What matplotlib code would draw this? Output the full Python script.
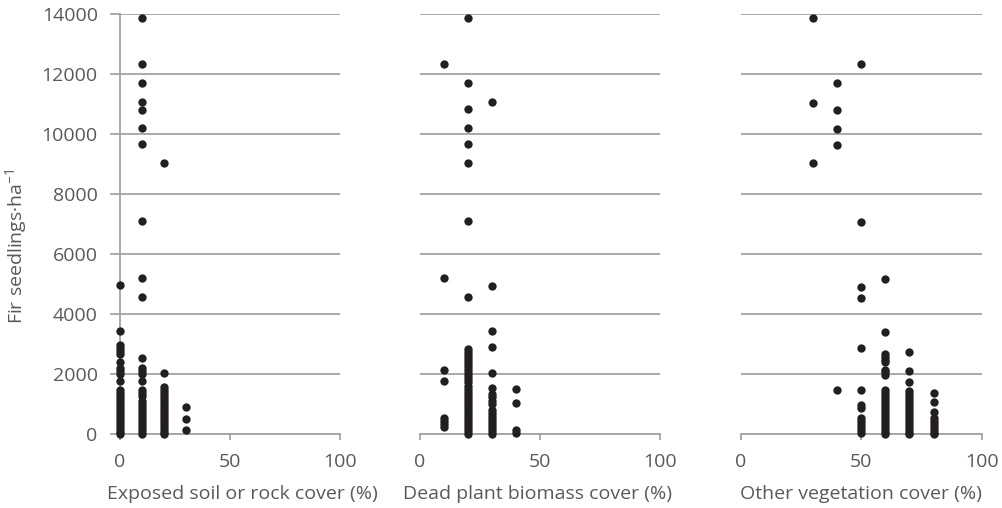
import matplotlib
matplotlib.use("Agg")
import matplotlib.pyplot as plt

# data: x = cover class (%), y = fir seedlings per ha
soil_cols = {
    0: [4950, 3430, 2950, 2850, 2750, 2650, 2400, 2200, 2100, 2000, 1770,
        1450, 1350, 1250, 1150, 1050, 950, 850, 750, 650, 550, 450, 350, 250, 150, 50, 0],
    10: [13850, 12330, 11700, 11080, 10800, 10200, 9660, 7110, 5210, 4580,
         2540, 2200, 2100, 2000, 1770, 1480, 1380, 1250, 1100, 1000, 900, 800,
         700, 600, 500, 400, 300, 200, 100, 0],
    20: [9030, 2030, 1550, 1450, 1350, 1250, 1150, 1050, 950, 850, 750, 650,
         550, 450, 350, 250, 150, 50, 0],
    30: [900, 500, 130],
}
dead_cols = {
    10: [12330, 5210, 2130, 1770, 530, 430, 330, 230],
    20: [13850, 11700, 10820, 10200, 9670, 9030, 7110, 4580, 2830, 2730,
         2630, 2530, 2430, 2330, 2230, 2130, 2030, 1930, 1830, 1730, 1600,
         1500, 1400, 1300, 1200, 1100, 1000, 900, 800, 700, 600, 500, 400,
         300, 200, 100, 0],
    30: [11080, 4940, 3430, 2910, 2030, 1530, 1320, 1240, 1100, 1000, 800,
         700, 600, 500, 400, 300, 200, 100, 0],
    40: [1510, 1030, 130, 30],
}
veg_cols = {
    30: [13850, 11040, 9030],
    40: [11690, 10800, 10170, 9630, 1470],
    50: [12330, 7080, 4910, 4520, 2880, 1470, 970, 860, 530, 430, 330, 230, 130, 30],
    60: [5170, 3400, 2680, 2580, 2480, 2400, 2130, 2050, 1970, 1450, 1350,
         1250, 1150, 1050, 950, 850, 750, 650, 550, 450, 350, 250, 150, 50, 0],
    70: [2740, 2110, 1730, 1430, 1330, 1230, 1130, 1030, 930, 830, 730, 630,
         530, 430, 330, 230, 130, 30, 0],
    80: [1370, 1080, 730, 530, 430, 330, 230, 130, 30, 0],
}

panels = [
    ("Exposed soil or rock cover (%)", soil_cols),
    ("Dead plant biomass cover (%)", dead_cols),
    ("Other vegetation cover (%)", veg_cols),
]
y_ticks = [0, 2000, 4000, 6000, 8000, 10000, 12000, 14000]
x_ticks = [0, 50, 100]

plt.rcParams['font.family'] = ['Open Sans', 'DejaVu Sans']
plt.rcParams['mathtext.fontset'] = 'custom'
plt.rcParams['mathtext.rm'] = 'Open Sans'
plt.rcParams['mathtext.default'] = 'rm'
text_col = '#595959'
grid_col = '#a3a3a3'
dot_col = '#231f20'
fs = 14

fig = plt.figure(figsize=(10.03, 5.08), dpi=100)
lefts = [0.1196, 0.4187, 0.7385]
widths = [0.2193, 0.2393, 0.2403]
label_x = [0.555, 0.49, 0.5]   # xlabel centres, axes fraction
bottom, height = 0.1457, 0.8268

for i, (xlabel, cols) in enumerate(panels):
    ax = fig.add_axes([lefts[i], bottom, widths[i], height])
    for xv, ys in cols.items():
        ax.scatter([xv] * len(ys), ys, s=36, color=dot_col, linewidths=0,
                   zorder=3, clip_on=False)
    ax.set_xlim(0, 100)
    ax.set_ylim(0, 14000)
    ax.set_xticks(x_ticks)
    ax.set_yticks(y_ticks)
    ax.yaxis.grid(True, color=grid_col, linewidth=1.3)
    ax.set_axisbelow(True)
    for s in ['top', 'right']:
        ax.spines[s].set_visible(False)
    ax.spines['bottom'].set_color(grid_col)
    ax.spines['bottom'].set_linewidth(1.3)
    ax.tick_params(axis='x', colors=grid_col, length=4, width=1.3,
                   labelcolor=text_col, labelsize=fs, pad=9.5)
    ax.set_xlabel(xlabel, color=text_col, fontsize=fs)
    ax.xaxis.set_label_coords(label_x[i], -0.122)
    if i == 0:
        ax.spines['left'].set_color(grid_col)
        ax.spines['left'].set_linewidth(1.3)
        ax.tick_params(axis='y', colors=grid_col, length=7, width=1.3,
                       labelcolor=text_col, labelsize=fs, pad=9)
    else:
        ax.spines['left'].set_visible(False)
        ax.tick_params(axis='y', length=0, labelleft=False)

fig.text(16 / 1003, 1 - 246 / 508, 'Fir seedlings·ha$^{-1}$', rotation=90,
         color=text_col, fontsize=fs, ha='center', va='center')

fig.savefig('out.png', dpi=100)
